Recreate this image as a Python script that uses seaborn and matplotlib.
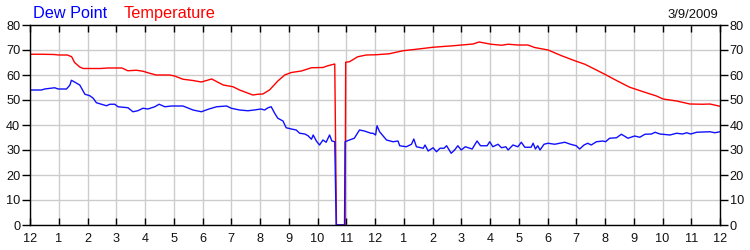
import matplotlib
matplotlib.use("Agg")
import matplotlib.pyplot as plt
import seaborn as sns
import pandas as pd

# ---- data (hours since midnight, degrees F) ----
temp_hours = [0.0, 0.4, 0.84, 1.0, 1.3, 1.45, 1.55, 1.73, 1.85, 2.1, 2.45, 2.7, 3.2, 3.4, 3.7, 3.93,
              4.16, 4.39, 4.86, 5.03, 5.32, 5.67, 5.96, 6.32, 6.72, 7.06, 7.29, 7.75, 7.93, 8.1,
              8.33, 8.62, 8.86, 9.09, 9.44, 9.79, 10.19, 10.36, 10.6, 10.66, 10.96, 10.98, 11.11,
              11.4, 11.7, 12.03, 12.5, 12.97, 13.44, 14.02, 14.72, 15.41, 15.62, 16.04, 16.4,
              16.63, 16.97, 17.32, 17.55, 18.02, 18.49, 18.95, 19.3, 19.65, 20.04, 20.4, 20.86,
              21.33, 21.79, 22.02, 22.49, 22.95, 23.41, 23.65, 24.0]
temp_values = [68.3, 68.3, 68.2, 68.0, 68.0, 67.3, 65.0, 63.2, 62.6, 62.6, 62.6, 62.8, 62.8, 61.7,
               61.9, 61.5, 60.7, 60.0, 60.0, 59.6, 58.3, 57.8, 57.2, 58.4, 56.0, 55.3, 54.0, 52.0,
               52.3, 52.4, 54.0, 57.6, 60.0, 61.0, 61.6, 62.9, 63.0, 63.7, 64.4, 0.0, 0.0, 65.1,
               65.3, 67.3, 68.0, 68.1, 68.5, 69.7, 70.3, 71.1, 71.7, 72.4, 73.2, 72.3, 71.9, 72.3,
               72.0, 72.0, 71.0, 70.0, 67.7, 65.7, 64.3, 62.3, 60.0, 57.8, 55.1, 53.3, 51.6, 50.4,
               49.6, 48.4, 48.3, 48.4, 47.5]

dew_hours = [0.0, 0.05, 0.4, 0.51, 0.86, 0.98, 1.27, 1.39, 1.44, 1.62, 1.73, 1.91, 2.08, 2.2, 2.31,
             2.49, 2.66, 2.78, 2.95, 3.06, 3.41, 3.58, 3.75, 3.93, 4.1, 4.34, 4.49, 4.69, 4.92,
             5.32, 5.67, 5.96, 6.2, 6.49, 6.84, 7.0, 7.29, 7.58, 7.8, 8.03, 8.16, 8.28, 8.39, 8.51,
             8.62, 8.8, 8.91, 9.09, 9.26, 9.38, 9.56, 9.67, 9.79, 9.85, 9.96, 10.07, 10.19, 10.3,
             10.42, 10.5, 10.6, 10.65, 10.94, 10.96, 11.11, 11.28, 11.46, 11.63, 11.86, 11.93,
             12.02, 12.07, 12.16, 12.4, 12.63, 12.8, 12.86, 13.09, 13.27, 13.35, 13.44, 13.68,
             13.74, 13.85, 14.02, 14.14, 14.26, 14.4, 14.49, 14.65, 14.77, 14.88, 15.0, 15.14,
             15.38, 15.55, 15.67, 15.9, 15.99, 16.1, 16.28, 16.4, 16.55, 16.63, 16.8, 16.97,
             17.09, 17.21, 17.43, 17.5, 17.58, 17.66, 17.74, 17.88, 18.02, 18.25, 18.42, 18.6,
             18.8, 19.0, 19.12, 19.27, 19.4, 19.52, 19.7, 19.93, 20.02, 20.16, 20.4, 20.57, 20.8,
             21.03, 21.21, 21.39, 21.62, 21.74, 21.91, 22.26, 22.49, 22.7, 22.84, 22.98, 23.19,
             23.65, 23.82, 24.0]
dew_values = [53.9, 54.0, 54.0, 54.4, 54.9, 54.4, 54.4, 56.0, 57.9, 56.7, 56.0, 52.3, 51.7, 50.7,
              48.9, 48.3, 47.7, 48.3, 48.3, 47.3, 46.9, 45.3, 45.7, 46.7, 46.4, 47.3, 48.3, 47.3,
              47.6, 47.6, 46.0, 45.3, 46.3, 47.3, 47.6, 46.7, 46.0, 45.7, 46.0, 46.4, 46.0, 46.9,
              47.3, 44.7, 42.7, 41.6, 38.9, 38.4, 38.0, 36.7, 36.4, 35.7, 34.3, 36.0, 33.6, 32.0,
              34.0, 33.1, 36.0, 33.6, 33.3, 0.0, 0.0, 33.3, 34.0, 34.7, 38.0, 37.6, 36.7, 36.7,
              36.0, 39.7, 37.3, 34.0, 33.3, 33.6, 31.7, 31.3, 32.3, 34.4, 31.3, 30.7, 32.0, 29.6,
              30.9, 29.3, 30.7, 30.7, 31.7, 28.7, 30.0, 31.7, 30.0, 31.3, 30.4, 33.6, 31.7, 31.7,
              33.3, 31.3, 32.3, 30.9, 31.3, 30.0, 32.0, 31.3, 33.1, 31.1, 31.1, 32.7, 30.4, 31.7,
              30.0, 32.3, 32.7, 32.3, 32.7, 33.1, 32.3, 31.7, 30.4, 32.0, 32.7, 32.0, 33.3, 33.6,
              33.3, 34.7, 34.9, 36.3, 34.7, 35.6, 35.1, 36.3, 36.4, 37.1, 36.4, 36.0, 36.7, 36.4,
              36.9, 36.4, 37.1, 37.3, 36.9, 37.3]

hour_labels = ["12", "1", "2", "3", "4", "5", "6", "7", "8", "9", "10", "11",
               "12", "1", "2", "3", "4", "5", "6", "7", "8", "9", "10", "11", "12"]
y_ticks = [0, 10, 20, 30, 40, 50, 60, 70, 80]
title_dew = "Dew Point"
title_temp = "Temperature"
date_text = "3/9/2009"

temp_df = pd.DataFrame({"hour": temp_hours, "value": temp_values})
dew_df = pd.DataFrame({"hour": dew_hours, "value": dew_values})

sns.set_style("white")
plt.rcParams["font.family"] = ["Liberation Sans", "DejaVu Sans"]

fig = plt.figure(figsize=(7.5, 2.5), dpi=100)
ax = fig.add_axes([30 / 750, 1 - 225 / 250, 690 / 750, 200 / 250])

sns.lineplot(data=temp_df, x="hour", y="value", color="#ff0000", linewidth=1.0,
             ax=ax, estimator=None, sort=False)
sns.lineplot(data=dew_df, x="hour", y="value", color="#1010ff", linewidth=1.0,
             ax=ax, estimator=None, sort=False)

ax.set_xlim(0, 24)
ax.set_ylim(0, 80)
ax.set_xlabel("")
ax.set_ylabel("")
ax.set_xticks(range(25))
ax.set_xticklabels(hour_labels)
ax.set_yticks(y_ticks)
ax.grid(True, color="#cccccc", linewidth=1.0)
ax.set_axisbelow(True)
for s in ax.spines.values():
    s.set_color("black")
    s.set_linewidth(1.0)
    s.set_visible(True)

ax.tick_params(axis="x", which="both", direction="in", length=5, width=1, color="black",
               top=True, bottom=True, labelsize=9.2, pad=5.5, labelcolor="#111111")
ax.tick_params(axis="y", which="both", direction="out", length=6, width=1, color="black",
               left=True, right=True, labelleft=True, labelright=True, labelsize=9.2,
               pad=1, labelcolor="#111111")

fig.text(33 / 750, 1 - 18 / 250, title_dew, color="#0000ff", fontsize=11.7, ha="left", va="baseline")
fig.text(124 / 750, 1 - 18 / 250, title_temp, color="#ff0000", fontsize=11.7, ha="left", va="baseline")
fig.text(718 / 750, 1 - 18 / 250, date_text, color="#111111", fontsize=9.4, ha="right", va="baseline")

fig.savefig("out.png", dpi=100)
